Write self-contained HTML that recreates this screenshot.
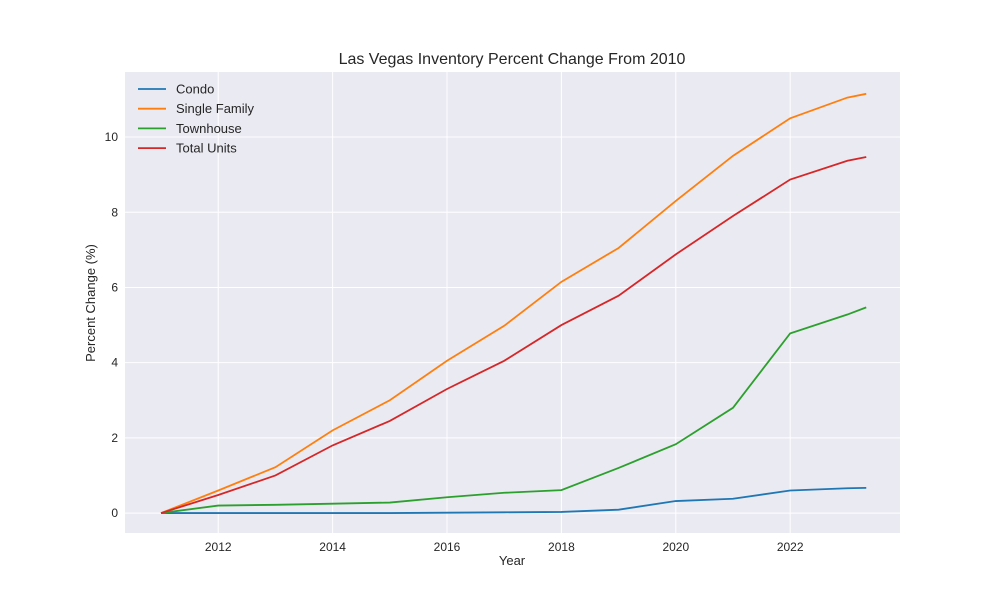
<!DOCTYPE html>
<html><head><meta charset="utf-8"><style>
body{margin:0;background:#fff;font-family:"Liberation Sans",sans-serif;}
</style></head><body>
<svg id="chart" width="1000" height="600" xmlns="http://www.w3.org/2000/svg">
<rect x="125" y="72" width="775" height="461" fill="#eaeaf2"/>
<g id="grid"></g><g id="lines"></g><g id="ticks"></g>
<text x="512" y="64" text-anchor="middle" font-size="16" fill="#262626">Las Vegas Inventory Percent Change From 2010</text>
<text x="512" y="565" text-anchor="middle" font-size="13" fill="#262626">Year</text>
<text x="95" y="303" text-anchor="middle" font-size="13" fill="#262626" transform="rotate(-90 95 303)">Percent Change (%)</text>
<g id="legend"></g>
</svg>
<script>
const years=[2011,2012,2013,2014,2015,2016,2017,2018,2019,2020,2021,2022,2023,2023.33];
const condo=[0,0,0,0,0,0.01,0.02,0.03,0.09,0.32,0.38,0.6,0.66,0.67];
const singleFamily=[0,0.6,1.22,2.2,3.0,4.05,4.98,6.15,7.05,8.3,9.5,10.5,11.05,11.15];
const townhouse=[0,0.2,0.22,0.25,0.28,0.42,0.54,0.61,1.2,1.83,2.8,4.78,5.28,5.47];
const totalUnits=[0,0.48,1.0,1.8,2.45,3.3,4.05,5.0,5.78,6.88,7.9,8.87,9.37,9.47];
const xTicks=[2012,2014,2016,2018,2020,2022];
const yTicks=[0,2,4,6,8,10];
const seriesNames=["Condo","Single Family","Townhouse","Total Units"];
const X0=125,X1=900,Y0=533,Y1=72,xmin=2010.37,xmax=2023.92,ymin=-0.53,ymax=11.73;
const sx=v=>X0+(v-xmin)/(xmax-xmin)*(X1-X0);
const sy=v=>Y0-(v-ymin)/(ymax-ymin)*(Y0-Y1);
const NS="http://www.w3.org/2000/svg";
function mk(tag,attrs,parent){const e=document.createElementNS(NS,tag);for(const k in attrs)e.setAttribute(k,attrs[k]);document.getElementById(parent).appendChild(e);return e;}
xTicks.forEach(t=>{
 const l=mk('line',{x1:sx(t),x2:sx(t),y1:Y1,y2:Y0,stroke:'#fff','stroke-width':1},'grid');
 
 
 const tx=mk('text',{x:sx(t),y:Y0+18,'text-anchor':'middle','font-size':12,fill:'#262626'},'ticks');tx.textContent=t;
 
 
});
yTicks.forEach(t=>{
 const l=mk('line',{x1:X0,x2:X1,y1:sy(t),y2:sy(t),stroke:'#fff','stroke-width':1},'grid');
 
 
 const tx=mk('text',{x:X0-7,y:sy(t)+4,'text-anchor':'end','font-size':12,fill:'#262626'},'ticks');tx.textContent=t;
 
 
});
const data=[condo,singleFamily,townhouse,totalUnits];
const colors=["#1f77b4","#ff7f0e","#2ca02c","#d62728"];
data.forEach((d,i)=>{
 const p=mk('polyline',{points:d.map((v,j)=>sx(years[j])+','+sy(v)).join(' '),fill:'none',stroke:colors[i],'stroke-width':1.8},'lines');
 
 
 const y=89+i*19.7;
 const ll=mk('line',{x1:138,x2:166,y1:y,y2:y,stroke:colors[i],'stroke-width':1.8},'legend');
 
 
 const lt=mk('text',{x:176,y:y+4.5,'font-size':13,fill:'#262626'},'legend');lt.textContent=seriesNames[i];
 
 
});
</script>
</body></html>
